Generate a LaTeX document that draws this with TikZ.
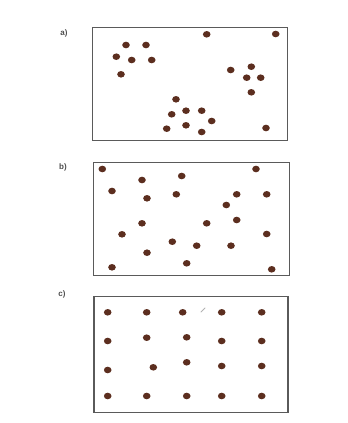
\documentclass[tikz,border=0pt]{standalone}
\usepackage{fontspec}
\setsansfont{Liberation Sans}
\usepackage{xcolor}
\definecolor{grainBrown}{HTML}{5C2E1F}
\definecolor{frameGray}{HTML}{5A5A5A}
\usepackage{tikz}
\usetikzlibrary{positioning, shapes.geometric}

\begin{document}
\begin{tikzpicture}[
    x=1pt, y=-1pt,
    panel/.style={
        rectangle,
        draw=frameGray,
        line width=1.4pt,
        anchor=north west,
        inner sep=0pt
    },
    grain/.style={
        ellipse,
        fill=grainBrown,
        minimum width=7.6pt,
        minimum height=6.6pt,
        inner sep=0pt
    },
    tag/.style={
        font=\sffamily\bfseries\footnotesize,
        text=frameGray!85!black
    }
]
\useasboundingbox (0,0) rectangle (348,423);

% panel a) clustered
\node[panel, minimum width=195pt, minimum height=113pt] (boxa) at (92,27) {};
\node[tag] (taga) at (64,33) {a)};
\foreach \px/\py [count=\i] in {206.7/34.3, 275.7/34, 126/45, 146/45, 116.3/56.7,
    131.7/60, 151.7/60, 121/74.3, 230.7/70, 251.3/66.7, 246.7/77.7, 260.7/77.7,
    251.3/92.3, 176/99.3, 186/110.7, 201.7/110.7, 171.7/114.3, 211.7/121,
    186/125.3, 166.7/128.7, 201.7/132, 266/128}
    \node[grain] (a\i) at (\px,\py) {};

% panel b) random
\node[panel, minimum width=196pt, minimum height=113pt] (boxb) at (92.5,162) {};
\node[tag] (tagb) at (63,167) {b)};
\foreach \px/\py [count=\i] in {102.3/169, 256/169, 142/180, 181.7/176, 112/191,
    147/198.3, 176.3/194.3, 236.7/194.3, 266.7/194.3, 226.3/205, 142/223.3,
    206.7/223.3, 236.7/220, 122/234.3, 266.7/234, 172.3/241.7, 196.7/245.7,
    231/245.7, 147/252.7, 112/267.3, 186.7/263.3, 271.7/269.3}
    \node[grain] (b\i) at (\px,\py) {};

% panel c) regular
\node[panel, minimum width=194pt, minimum height=115.5pt] (boxc) at (93.3,296) {};
\node[tag] (tagc) at (62,294.5) {c)};
\foreach \px/\py [count=\i] in {107.7/312.3, 146.7/312.3, 182.7/312.3, 221.7/312.3, 261.7/312.3,
    107.7/341, 146.7/337.7, 186.7/337.3, 221.7/341, 261.7/341,
    107.7/370, 153.3/367.3, 186.7/362.3, 221.7/366, 261.7/366,
    107.7/396, 146.7/396, 186.7/396, 221.7/396, 261.7/396}
    \node[grain] (c\i) at (\px,\py) {};
\draw[gray!60, line width=0.8pt, line cap=round] (201,312) -- (205,308);

\end{tikzpicture}
\end{document}
